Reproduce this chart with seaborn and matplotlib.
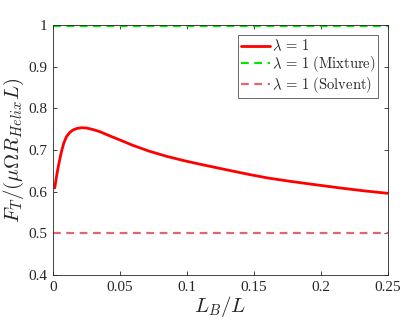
import seaborn as sns
import numpy as np
import pandas as pd
import matplotlib
matplotlib.use('Agg')
import matplotlib.pyplot as plt

# values
lb_ratio = [0.0013, 0.0025, 0.0037, 0.005, 0.0063, 0.008, 0.010, 0.0125, 0.0149, 0.018,
            0.0212, 0.025, 0.0299, 0.035, 0.0423, 0.05, 0.0597, 0.072, 0.0846, 0.097,
            0.1095, 0.128, 0.1468, 0.16, 0.1766, 0.195, 0.214, 0.232, 0.25]
force = [0.609, 0.634, 0.656, 0.677, 0.696, 0.716, 0.732, 0.742, 0.748, 0.7518,
         0.7535, 0.7528, 0.749, 0.744, 0.734, 0.724, 0.711, 0.697, 0.685, 0.675,
         0.666, 0.6535, 0.641, 0.633, 0.625, 0.617, 0.609, 0.602, 0.596]
mixture = 0.997
solvent = 0.5

sns.set_style('ticks')
plt.rcParams['font.family'] = ['Liberation Serif', 'DejaVu Serif']
plt.rcParams['mathtext.fontset'] = 'cm'
plt.rcParams['xtick.direction'] = 'in'
plt.rcParams['ytick.direction'] = 'in'

fig = plt.figure(figsize=(4.11, 3.24), dpi=100)
ax = fig.add_axes([53 / 411, 1 - 275 / 324, 335 / 411, 250 / 324])

df = pd.DataFrame({'x': lb_ratio, 'y': force})
sns.lineplot(data=df, x='x', y='y', ax=ax, color='#ff0000', linewidth=2,
             label=r'$\lambda \,=\, 1$')
ax.axhline(mixture, color='#00e600', linestyle=(0, (3.5, 2.5)), linewidth=1.6,
           label=r'$\lambda \,=\, 1\ \mathrm{(Mixture)}$')
ax.axhline(solvent, color='#e06670', linestyle=(0, (3.5, 2.5)), linewidth=1.6,
           label=r'$\lambda \,=\, 1\ \mathrm{(Solvent)}$')

ax.set_xlim(0, 0.25)
ax.set_ylim(0.4, 1.0)
ax.set_xticks([0, 0.05, 0.1, 0.15, 0.2, 0.25])
ax.set_xticklabels(['0', '0.05', '0.1', '0.15', '0.2', '0.25'])
ax.set_yticks([0.4, 0.5, 0.6, 0.7, 0.8, 0.9, 1.0])
ax.set_yticklabels(['0.4', '0.5', '0.6', '0.7', '0.8', '0.9', '1'])
ax.tick_params(axis='both', labelsize=11, colors='#262626', length=3, width=0.6,
               top=True, right=True, pad=4)
for s in ax.spines.values():
    s.set_color('#262626')
    s.set_linewidth(0.6)

ax.set_xlabel(r'$L_B/L$', fontsize=15, labelpad=0)
ax.set_ylabel(r'$F_T/(\mu\Omega R_{Helix}L)$', fontsize=15, labelpad=2)

leg = ax.legend(loc='upper right', bbox_to_anchor=(0.98, 0.97), fontsize=10.5,
                frameon=True, fancybox=False, handlelength=2.0, handletextpad=0.1,
                borderpad=0.2, labelspacing=0.05, borderaxespad=0.2)
leg.get_frame().set_edgecolor('#262626')
leg.get_frame().set_linewidth(0.6)

fig.savefig('out.png', dpi=100)
